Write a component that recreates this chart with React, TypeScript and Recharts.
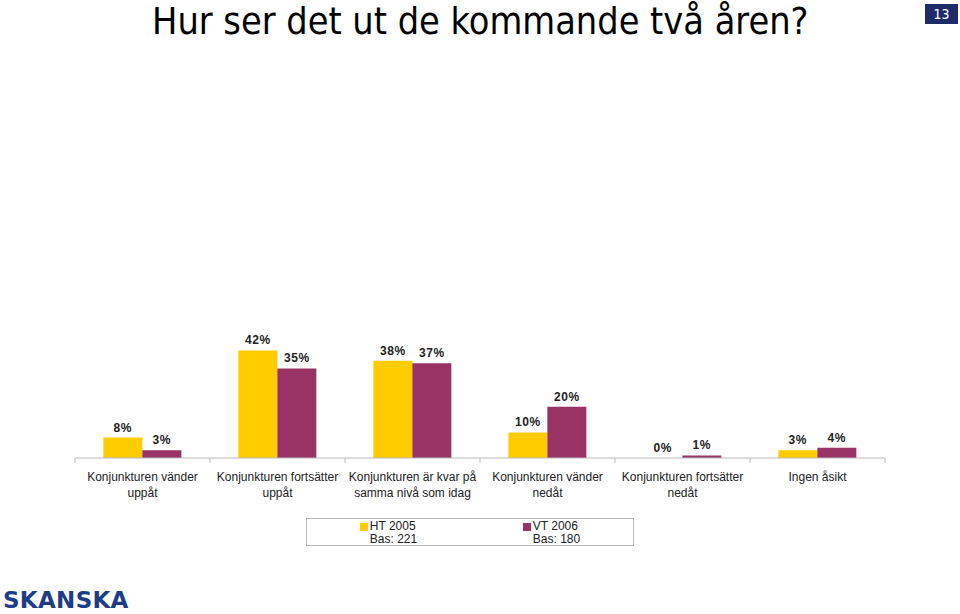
import { Bar, BarChart, LabelList, XAxis, YAxis } from "recharts"

const categories = [
  "Konjunkturen vänder uppåt",
  "Konjunkturen fortsätter uppåt",
  "Konjunkturen är kvar på samma nivå som idag",
  "Konjunkturen vänder nedåt",
  "Konjunkturen fortsätter nedåt",
  "Ingen åsikt",
]
const tickLines = [
  ["Konjunkturen vänder", "uppåt"],
  ["Konjunkturen fortsätter", "uppåt"],
  ["Konjunkturen är kvar på", "samma nivå som idag"],
  ["Konjunkturen vänder", "nedåt"],
  ["Konjunkturen fortsätter", "nedåt"],
  ["Ingen åsikt"],
]
const ht2005 = [8, 42, 38, 10, 0, 3]
const vt2006 = [3, 35, 37, 20, 1, 4]
const legendItems = [
  { name: "HT 2005", base: "Bas: 221", color: "#FFCC00" },
  { name: "VT 2006", base: "Bas: 180", color: "#993366" },
]

const data = categories.map((name, i) => ({ name, ht: ht2005[i], vt: vt2006[i] }))

const W = 960
const H = 614
const M = { top: 330, right: 75, bottom: 126, left: 75 }
const band = (W - M.left - M.right) / categories.length
const font = "'Liberation Sans', Arial, sans-serif"
const labelStyle = { fontSize: 12, fontWeight: "bold", fill: "#222", fontFamily: font, letterSpacing: 0.6 }

function Tick(props: any) {
  const { x, y, index } = props
  const lines = tickLines[index] || []
  return (
    <g>
      <line x1={x - band / 2} x2={x - band / 2} y1={y - 8} y2={y - 3} stroke="#bbb" />
      {index === categories.length - 1 && (
        <line x1={x + band / 2} x2={x + band / 2} y1={y - 8} y2={y - 3} stroke="#bbb" />
      )}
      <text x={x} y={y + 15} textAnchor="middle" fontSize={12} fill="#222" fontFamily={font}>
        {lines.map((l, i) => (
          <tspan key={i} x={x} dy={i === 0 ? 0 : 16}>
            {l}
          </tspan>
        ))}
      </text>
    </g>
  )
}

function LegendBox() {
  return (
    <div
      style={{
        position: "absolute",
        left: 306,
        top: 518,
        width: 326,
        height: 26,
        border: "1px solid #bbb",
        display: "flex",
        fontFamily: font,
        fontSize: 12,
        color: "#222",
        lineHeight: "13px",
      }}
    >
      {legendItems.map((it) => (
        <div key={it.name} style={{ flex: 1, display: "flex", justifyContent: "center", paddingTop: 1 }}>
          <div>
            <div style={{ display: "flex", alignItems: "center" }}>
              <span style={{ width: 8, height: 8, background: it.color, marginRight: 2, display: "inline-block" }} />
              {it.name}
            </div>
            <div style={{ paddingLeft: 10 }}>{it.base}</div>
          </div>
        </div>
      ))}
    </div>
  )
}

export default function App() {
  return (
    <div style={{ position: "relative", width: W, height: H, background: "#fff", overflow: "hidden" }}>
      <style>{"body{margin:0}"}</style>
      <div
        style={{
          position: "absolute",
          left: 152,
          top: 0,
          fontFamily: "'DejaVu Sans Condensed', 'Liberation Sans', sans-serif",
          fontStretch: "condensed",
          fontWeight: 300,
          fontSize: 37.5,
          lineHeight: "42px",
          color: "#000",
          whiteSpace: "nowrap",
        }}
      >
        Hur ser det ut de kommande två åren?
      </div>
      <div
        style={{
          position: "absolute",
          left: 925,
          top: 4,
          width: 33,
          height: 20,
          background: "#1F2A6B",
          color: "#fff",
          fontFamily: "'DejaVu Sans Condensed', sans-serif",
          fontSize: 14,
          textAlign: "center",
          lineHeight: "20px",
        }}
      >
        13
      </div>
      <div
        style={{
          position: "absolute",
          left: 3,
          top: 589,
          fontFamily: "'DejaVu Sans', sans-serif",
          fontWeight: 900,
          fontSize: 23,
          lineHeight: "22px",
          color: "#1F3C88",
          letterSpacing: 0.3,
        }}
      >
        SKANSKA
      </div>
      <LegendBox />
      <div style={{ position: "absolute", left: 0, top: 0 }}>
        <BarChart width={W} height={H} data={data} margin={M} barGap={0} barCategoryGap="21%">
          <XAxis
            dataKey="name"
            interval={0}
            axisLine={{ stroke: "#bbb" }}
            tickLine={false}
            tick={<Tick />}
          />
          <YAxis hide domain={[0, 50]} />
          <Bar dataKey="ht" fill="#FFCC00" minPointSize={0.1} isAnimationActive={false}>
            <LabelList dataKey="ht" position="top" offset={6} formatter={(v: any) => `${v}%`} style={labelStyle} />
          </Bar>
          <Bar dataKey="vt" fill="#993366" minPointSize={0.1} isAnimationActive={false}>
            <LabelList dataKey="vt" position="top" offset={6} formatter={(v: any) => `${v}%`} style={labelStyle} />
          </Bar>
        </BarChart>
      </div>
    </div>
  )
}
